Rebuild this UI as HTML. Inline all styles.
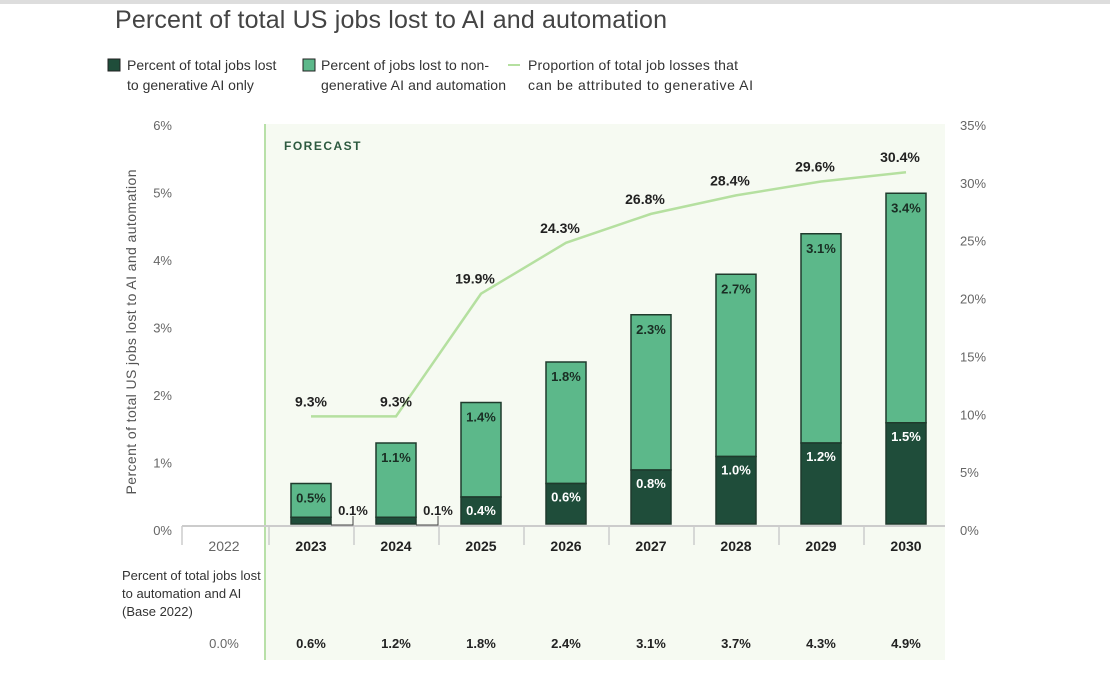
<!DOCTYPE html>
<html><head><meta charset="utf-8"><style>
body{margin:0;background:#fff;width:1110px;height:676px;overflow:hidden;font-family:"Liberation Sans",sans-serif}
</style></head><body>
<svg width="1110" height="676" xmlns="http://www.w3.org/2000/svg">
<rect x="0" y="0" width="1110" height="4" fill="#ddd"/>
<text x="115" y="28" font-size="25" fill="#444" textLength="552">Percent of total US jobs lost to AI and automation</text>
<g font-size="14" fill="#333">
<rect x="108" y="59" width="12" height="12" fill="#1f4d3a" stroke="#222"/>
<text x="127" y="70"><tspan x="127">Percent of total jobs lost</tspan><tspan x="127" dy="20">to generative AI only</tspan></text>
<rect x="303" y="59" width="12" height="12" fill="#5cb88a" stroke="#222"/>
<text x="321" y="70"><tspan x="321" textLength="168">Percent of jobs lost to non-</tspan><tspan x="321" dy="20" textLength="185">generative AI and automation</tspan></text>
<line x1="508" y1="65" x2="520" y2="65" stroke="#b5e0a0" stroke-width="2"/>
<text x="528" y="70"><tspan x="528" textLength="210">Proportion of total job losses that</tspan><tspan x="528" dy="20" textLength="225">can be attributed to generative AI</tspan></text>
</g>
<rect x="265" y="124" width="680" height="536" fill="#f6faf2"/>
<line x1="265" y1="124" x2="265" y2="660" stroke="#b8e0a8" stroke-width="2"/>
<text x="284" y="150" font-size="12" font-weight="bold" fill="#2d5a40" letter-spacing="1.5">FORECAST</text>
<text transform="translate(136,332) rotate(-90)" text-anchor="middle" font-size="14" fill="#555" textLength="325">Percent of total US jobs lost to AI and automation</text>
<text x="122" y="580" font-size="13" fill="#333"><tspan x="122">Percent of total jobs lost</tspan><tspan x="122" dy="18">to automation and AI</tspan><tspan x="122" dy="18">(Base 2022)</tspan></text>
<g id="g"></g>
</svg>
<script>
const years=["2022","2023","2024","2025","2026","2027","2028","2029","2030"];
const genAI=[null,0.1,0.1,0.4,0.6,0.8,1.0,1.2,1.5];
const nonGen=[null,0.5,1.1,1.4,1.8,2.3,2.7,3.1,3.4];
const share=[null,9.3,9.3,19.9,24.3,26.8,28.4,29.6,30.4];
const baseTotal=["0.0%","0.6%","1.2%","1.8%","2.4%","3.1%","3.7%","4.3%","4.9%"];
const leftTicks=[0,1,2,3,4,5,6];
const rightTicks=[0,5,10,15,20,25,30,35];
const NS="http://www.w3.org/2000/svg",g=document.getElementById('g');
const base=524,ppp=67.5;
const yL=v=>base-v*ppp, yR=v=>base-v/35*6*ppp, xC=i=>224+(i===0?0:87+(i-1)*85);
function mk(t,a,txt){const e=document.createElementNS(NS,t);for(const k in a)e.setAttribute(k,a[k]);if(txt!=null)e.textContent=txt;g.appendChild(e);return e;}
leftTicks.forEach(v=>{const e=mk('text',{x:172,y:yL(v)+11-v*0.03,'text-anchor':'end','font-size':13,fill:'#666'},v+'%');

});
rightTicks.forEach(v=>{const e=mk('text',{x:960,y:yR(v)+11,'font-size':13,fill:'#666'},v+'%');

});
let ax=mk('line',{x1:182,y1:526,x2:945,y2:526,stroke:'#ccc','stroke-width':2});


for(let i=0;i<9;i++){const sx=i===0?182:xC(i)-42;const t=mk('line',{x1:sx,y1:526,x2:sx,y2:545,stroke:'#ccc','stroke-width':1.5});

}
years.forEach((yr,i)=>{const e=mk('text',{x:xC(i),y:551,'text-anchor':'middle','font-size':14,'font-weight':i?'bold':'normal',fill:i?'#222':'#666'},yr);


const b=mk('text',{x:xC(i),y:648,'text-anchor':'middle','font-size':13,'font-weight':i?'bold':'normal',fill:i?'#222':'#666'},baseTotal[i]);

});
for(let i=1;i<9;i++){const x=xC(i)-20,w=40;
const gy=yL(genAI[i]),ty=yL(genAI[i]+nonGen[i]);
const r1=mk('rect',{x:x,y:ty,width:w,height:gy-ty,fill:'#5cb88a',stroke:'#1f3a2c','stroke-width':1.5});


const r2=mk('rect',{x:x,y:gy,width:w,height:base-gy,fill:'#1f4d3a',stroke:'#1f3a2c','stroke-width':1.5});


const l1=mk('text',{x:xC(i),y:ty+19,'text-anchor':'middle','font-size':13,'font-weight':'bold',fill:'#1a2e24'},nonGen[i].toFixed(1)+'%');


let l2;
if(base-gy<16){mk('path',{d:`M${x+w} ${base+1}H${x+w+22}V${base-8}`,stroke:'#444',fill:'none'});
l2=mk('text',{x:x+w+22,y:base-9,'text-anchor':'middle','font-size':13,'font-weight':'bold',fill:'#222'},genAI[i].toFixed(1)+'%');}
else l2=mk('text',{x:xC(i),y:gy+18,'text-anchor':'middle','font-size':13,'font-weight':'bold',fill:'#fff'},genAI[i].toFixed(1)+'%');

}
let d='';for(let i=1;i<9;i++)d+=(i===1?'M':'L')+xC(i)+' '+yR(share[i]);
const ln=mk('path',{d:d,stroke:'#b5e0a0','stroke-width':2.5,fill:'none'});


for(let i=1;i<9;i++){const t=mk('text',{x:xC(i)-(i<3?0:6),y:yR(share[i])-10,'text-anchor':'middle','font-size':14,'font-weight':'bold',fill:'#222'},share[i].toFixed(1)+'%');

}
</script>
</body></html>
